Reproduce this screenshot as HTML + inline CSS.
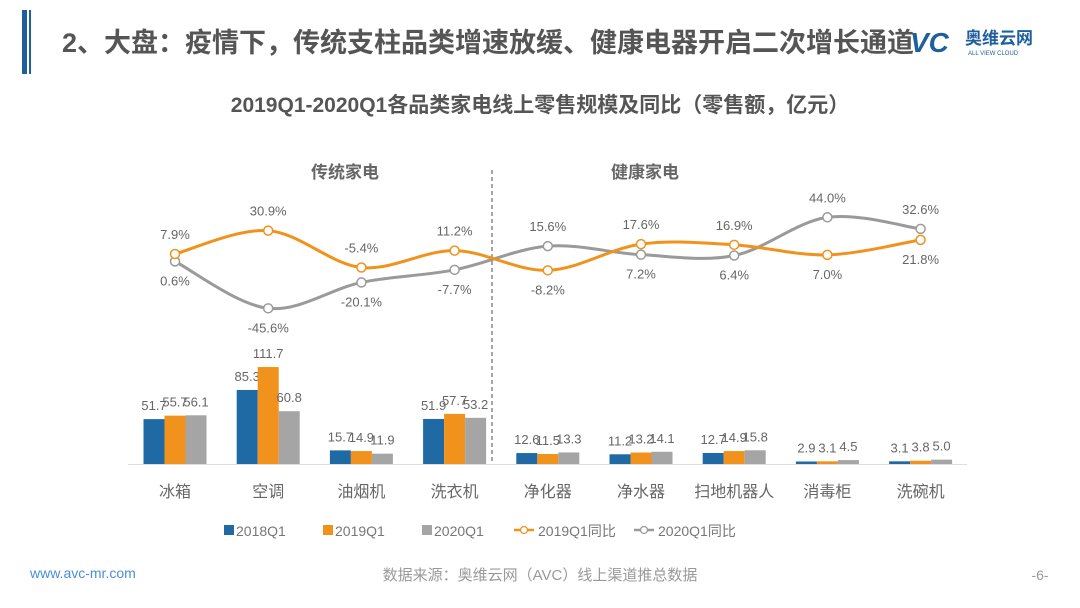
<!DOCTYPE html>
<html><head><meta charset="utf-8"><style>
body{margin:0;width:1080px;height:608px;background:#fff;overflow:hidden;font-family:"Liberation Sans","Noto Sans CJK SC",sans-serif;}
svg{position:absolute;left:0;top:0}
</style></head><body>
<svg id="c" width="1080" height="608">
<rect x="22" y="10" width="5" height="64" fill="#1f5f9e"/>
<rect x="29" y="10" width="2" height="64" fill="#1f5f9e"/>
<text x="62" y="52" font-size="27" font-weight="bold" fill="#555">2、大盘：疫情下，传统支柱品类增速放缓、健康电器开启二次增长通道</text>
<text x="910" y="52" font-size="28" font-weight="bold" fill="#1f5f9e" font-style="italic">VC</text>
<text x="965" y="44" font-size="17" font-weight="bold" fill="#1f5f9e">奥维云网</text>
<text x="968" y="55" font-size="6" fill="#1f5f9e">ALL VIEW CLOUD</text>
<text x="540" y="112" font-size="21" font-weight="bold" fill="#555" text-anchor="middle">2019Q1-2020Q1各品类家电线上零售规模及同比（零售额，亿元）</text>
<text x="345" y="178" font-size="17" font-weight="bold" fill="#666" text-anchor="middle">传统家电</text>
<text x="645" y="178" font-size="17" font-weight="bold" fill="#666" text-anchor="middle">健康家电</text>
<line x1="492" y1="170" x2="492" y2="465" stroke="#777" stroke-width="1.3" stroke-dasharray="4,3"/>
<line x1="128" y1="464.5" x2="967" y2="464.5" stroke="#ddd" stroke-width="1"/>
<g id="bars"></g><g id="lines"></g><g id="legend"></g>
<text x="30" y="578" font-size="14" fill="#4a8fd6">www.avc-mr.com</text>
<text x="540" y="580" font-size="15" fill="#999" text-anchor="middle">数据来源：奥维云网（AVC）线上渠道推总数据</text>
<text x="1040" y="580" font-size="14" fill="#999" text-anchor="middle">-6-</text>
</svg>
<script>
const categories=["冰箱","空调","油烟机","洗衣机","净化器","净水器","扫地机器人","消毒柜","洗碗机"];
const s2018=[51.7,85.3,15.7,51.9,12.6,11.2,12.7,2.9,3.1];
const s2019=[55.7,111.7,14.9,57.7,11.5,13.2,14.9,3.1,3.8];
const s2020=[56.1,60.8,11.9,53.2,13.3,14.1,15.8,4.5,5.0];
const yoy2019=[7.9,30.9,-5.4,11.2,-8.2,17.6,16.9,7.0,21.8];
const yoy2020=[0.6,-45.6,-20.1,-7.7,15.6,7.2,6.4,44.0,32.6];
const NS="http://www.w3.org/2000/svg";
function mk(t,a,p){const e=document.createElementNS(NS,t);for(const k in a)e.setAttribute(k,a[k]);p.appendChild(e);return e;}
const xC=i=>175+i*93.2;
const yB=v=>464-v*0.868;
const yL=v=>262-v*1.016;
const bars=document.getElementById('bars'),lines=document.getElementById('lines'),leg=document.getElementById('legend');
const series=[[s2018,"#1f6aa5","2018"],[s2019,"#f0921c","2019"],[s2020,"#a5a5a5","2020"]];
const fmt=v=>v.toFixed(1);
categories.forEach((c,i)=>{
  series.forEach((s,j)=>{
    const x=xC(i)-31.5+j*21;
    const r=mk('rect',{x:x,y:yB(s[0][i]),width:21,height:464-yB(s[0][i]),fill:s[1]},bars);
    
    
    const t=mk('text',{x:x+10.5,y:yB(s[0][i])-9,'font-size':13,fill:'#666','text-anchor':'middle'},bars);
    t.textContent=fmt(s[0][i]);
    
    
  });
  const t=mk('text',{x:xC(i),y:497,'font-size':16,fill:'#666','text-anchor':'middle'},bars);
  t.textContent=c;
  
  
});
function smooth(pts){let d='M'+pts[0][0]+','+pts[0][1];
  for(let i=0;i<pts.length-1;i++){const p0=pts[i-1]||pts[i],p1=pts[i],p2=pts[i+1],p3=pts[i+2]||p2;
    d+=' C'+(p1[0]+(p2[0]-p0[0])/6)+','+(p1[1]+(p2[1]-p0[1])/6)+' '+(p2[0]-(p3[0]-p1[0])/6)+','+(p2[1]-(p3[1]-p1[1])/6)+' '+p2[0]+','+p2[1];}
  return d;}
[[yoy2020,"#9a9a9a","2020"],[yoy2019,"#f0921c","2019"]].forEach(s=>{
  const pts=s[0].map((v,i)=>[xC(i),yL(v)]);
  const p=mk('path',{d:smooth(pts),fill:'none',stroke:s[1],'stroke-width':3},lines);
  
  
  pts.forEach((q,i)=>{
    const m=mk('circle',{cx:q[0],cy:q[1],r:4.5,fill:'#fff',stroke:s[1],'stroke-width':1.5},lines);
    
    
  });
});
categories.forEach((c,i)=>{
  const a=yoy2019[i],b=yoy2020[i];
  [[a,a>=b],[b,b>a]].forEach((q,k)=>{
    const y=q[1]?yL(q[0])-15:yL(q[0])+24;
    const t=mk('text',{x:xC(i),y:y,'font-size':13,fill:'#666','text-anchor':'middle'},lines);
    t.textContent=q[0].toFixed(1)+'%';
    
    
  });
});
const legItems=[["2018Q1","#1f6aa5",0,224],["2019Q1","#f0921c",0,323],["2020Q1","#a5a5a5",0,422],["2019Q1同比","#f0921c",1,520],["2020Q1同比","#9a9a9a",1,640]];
legItems.forEach(l=>{
  const g=mk('g',{},leg);
  
  
  if(l[2]===0){mk('rect',{x:l[3],y:525,width:10,height:10,fill:l[1]},g);}
  else{mk('line',{x1:l[3]-6,y1:530,x2:l[3]+14,y2:530,stroke:l[1],'stroke-width':2.5},g);mk('circle',{cx:l[3]+4,cy:530,r:3.5,fill:'#fff',stroke:l[1],'stroke-width':1.3},g);}
  const t=mk('text',{x:l[3]+(l[2]?18:12),y:536,'font-size':14,fill:'#777'},g);t.textContent=l[0];
});
</script>
</body></html>
